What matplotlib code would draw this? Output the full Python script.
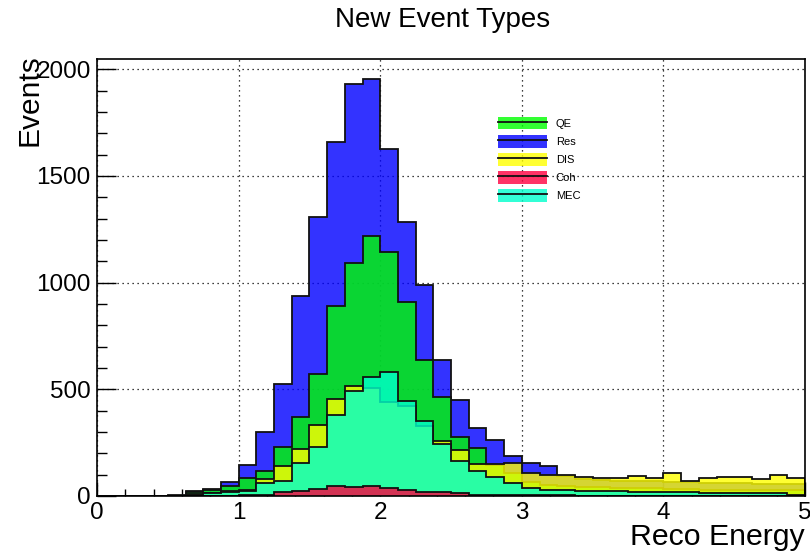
import numpy as np
import matplotlib
matplotlib.use("Agg")
import matplotlib.pyplot as plt
from matplotlib.patches import Patch
from matplotlib.lines import Line2D
from matplotlib.ticker import MultipleLocator

plt.rcParams['font.family'] = ['Liberation Sans', 'DejaVu Sans']

# ---- data (40 bins from 0 to 5, width 0.125) ----
x_min, x_max, n_bins = 0.0, 5.0, 40

res = [0, 0, 0, 0, 3, 22, 33, 66, 145, 301,
       523, 938, 1307, 1658, 1930, 1956, 1625, 1282, 991, 636,
       450, 320, 261, 188, 153, 140, 92, 82, 75, 72,
       70, 68, 67, 65, 62, 60, 60, 58, 58, 56]
qe = [0, 0, 0, 0, 0, 17, 28, 47, 83, 116,
      228, 372, 570, 890, 1090, 1218, 1144, 907, 635, 462,
      275, 226, 143, 108, 67, 52, 45, 42, 40, 38,
      37, 36, 35, 33, 30, 30, 28, 28, 27, 26]
dis = [0, 0, 0, 0, 0, 8, 14, 22, 28, 78,
       140, 219, 334, 454, 517, 504, 439, 423, 329, 258,
       215, 150, 150, 153, 109, 98, 98, 90, 85, 86,
       94, 86, 106, 72, 83, 90, 90, 79, 98, 86]
mec = [0, 0, 0, 0, 0, 5, 12, 18, 25, 59,
       72, 153, 231, 381, 494, 556, 579, 446, 353, 242,
       164, 117, 90, 62, 38, 30, 28, 25, 24, 22,
       20, 18, 17, 18, 15, 12, 12, 14, 13, 6]
coh = [0, 0, 0, 0, 0, 0, 0, 2, 5, 7,
       17, 25, 31, 45, 44, 46, 36, 28, 20, 17,
       12, 7, 5, 4, 4, 3, 3, 2, 2, 2,
       2, 2, 2, 1, 1, 1, 1, 1, 1, 1]

draw_order = ['Res', 'QE', 'DIS', 'MEC', 'Coh']
legend_order = ['QE', 'Res', 'DIS', 'Coh', 'MEC']
series = {'Res': res, 'QE': qe, 'DIS': dis, 'MEC': mec, 'Coh': coh}
colors = {'Res': '#0000ff', 'QE': '#00ff00', 'DIS': '#ffff00',
          'MEC': '#00ffcc', 'Coh': '#ff0040'}
ALPHA = 0.8

x_ticks = [0, 1, 2, 3, 4, 5]
y_ticks = [0, 500, 1000, 1500, 2000]

# ---- figure ----
W, H = 810, 554
fig = plt.figure(figsize=(W / 100, H / 100), dpi=100)
ax = fig.add_axes([97 / W, (H - 496) / H, (805 - 97) / W, (496 - 59) / H])

edges = np.linspace(x_min, x_max, n_bins + 1)
z = 2
for name in draw_order:
    v = np.asarray(series[name], dtype=float)
    ax.stairs(v, edges, fill=True, color=colors[name], alpha=ALPHA,
              linewidth=0, zorder=z)
    ax.stairs(v, edges, fill=False, color='#111111', linewidth=1.3,
              zorder=z + 0.5)
    z += 1

ax.set_xlim(x_min, x_max)
ax.set_ylim(0, 1.047 * max(res))

ax.set_xticks(x_ticks)
ax.set_yticks(y_ticks)
ax.xaxis.set_minor_locator(MultipleLocator(0.2))
ax.yaxis.set_minor_locator(MultipleLocator(100))
ax.tick_params(direction='in', which='both', top=False, right=False,
               labelsize=17.5, width=1, colors='black')
ax.tick_params(axis='y', which='major', length=13.5, pad=4.5)
ax.tick_params(axis='y', which='minor', length=7)
ax.tick_params(axis='x', which='major', length=10, pad=4)
ax.tick_params(axis='x', which='minor', length=5)

ax.set_axisbelow(True)
ax.grid(True, which='major', color='black', linestyle=(0, (1, 3)),
        linewidth=0.9, zorder=0)
for s in ax.spines.values():
    s.set_linewidth(1.2)
    s.set_zorder(20)

# titles
fig.text(443 / W, 1 - 20 / H, 'New Event Types', ha='center', va='center',
         fontsize=20)
fig.text(805 / W, 1 - 537 / H, 'Reco Energy', ha='right', va='center',
         fontsize=21.8)
fig.text(29 / W, 1 - 54 / H, 'Events', ha='center', va='top',
         rotation=90, fontsize=21.5)

# legend
handles = [(Patch(facecolor=colors[n], alpha=ALPHA, edgecolor='none'),
            Line2D([], [], color='#111111', linewidth=1.3))
           for n in legend_order]
leg = ax.legend(handles, legend_order, loc='upper left',
                bbox_to_anchor=(498 / W, 1 - 117 / H),
                bbox_transform=fig.transFigure,
                frameon=False, fontsize=8, handlelength=4.4,
                handleheight=1.35, labelspacing=0.5, handletextpad=0.8,
                borderpad=0, borderaxespad=0)
leg.set_zorder(15)

fig.savefig('out.png', dpi=100)
